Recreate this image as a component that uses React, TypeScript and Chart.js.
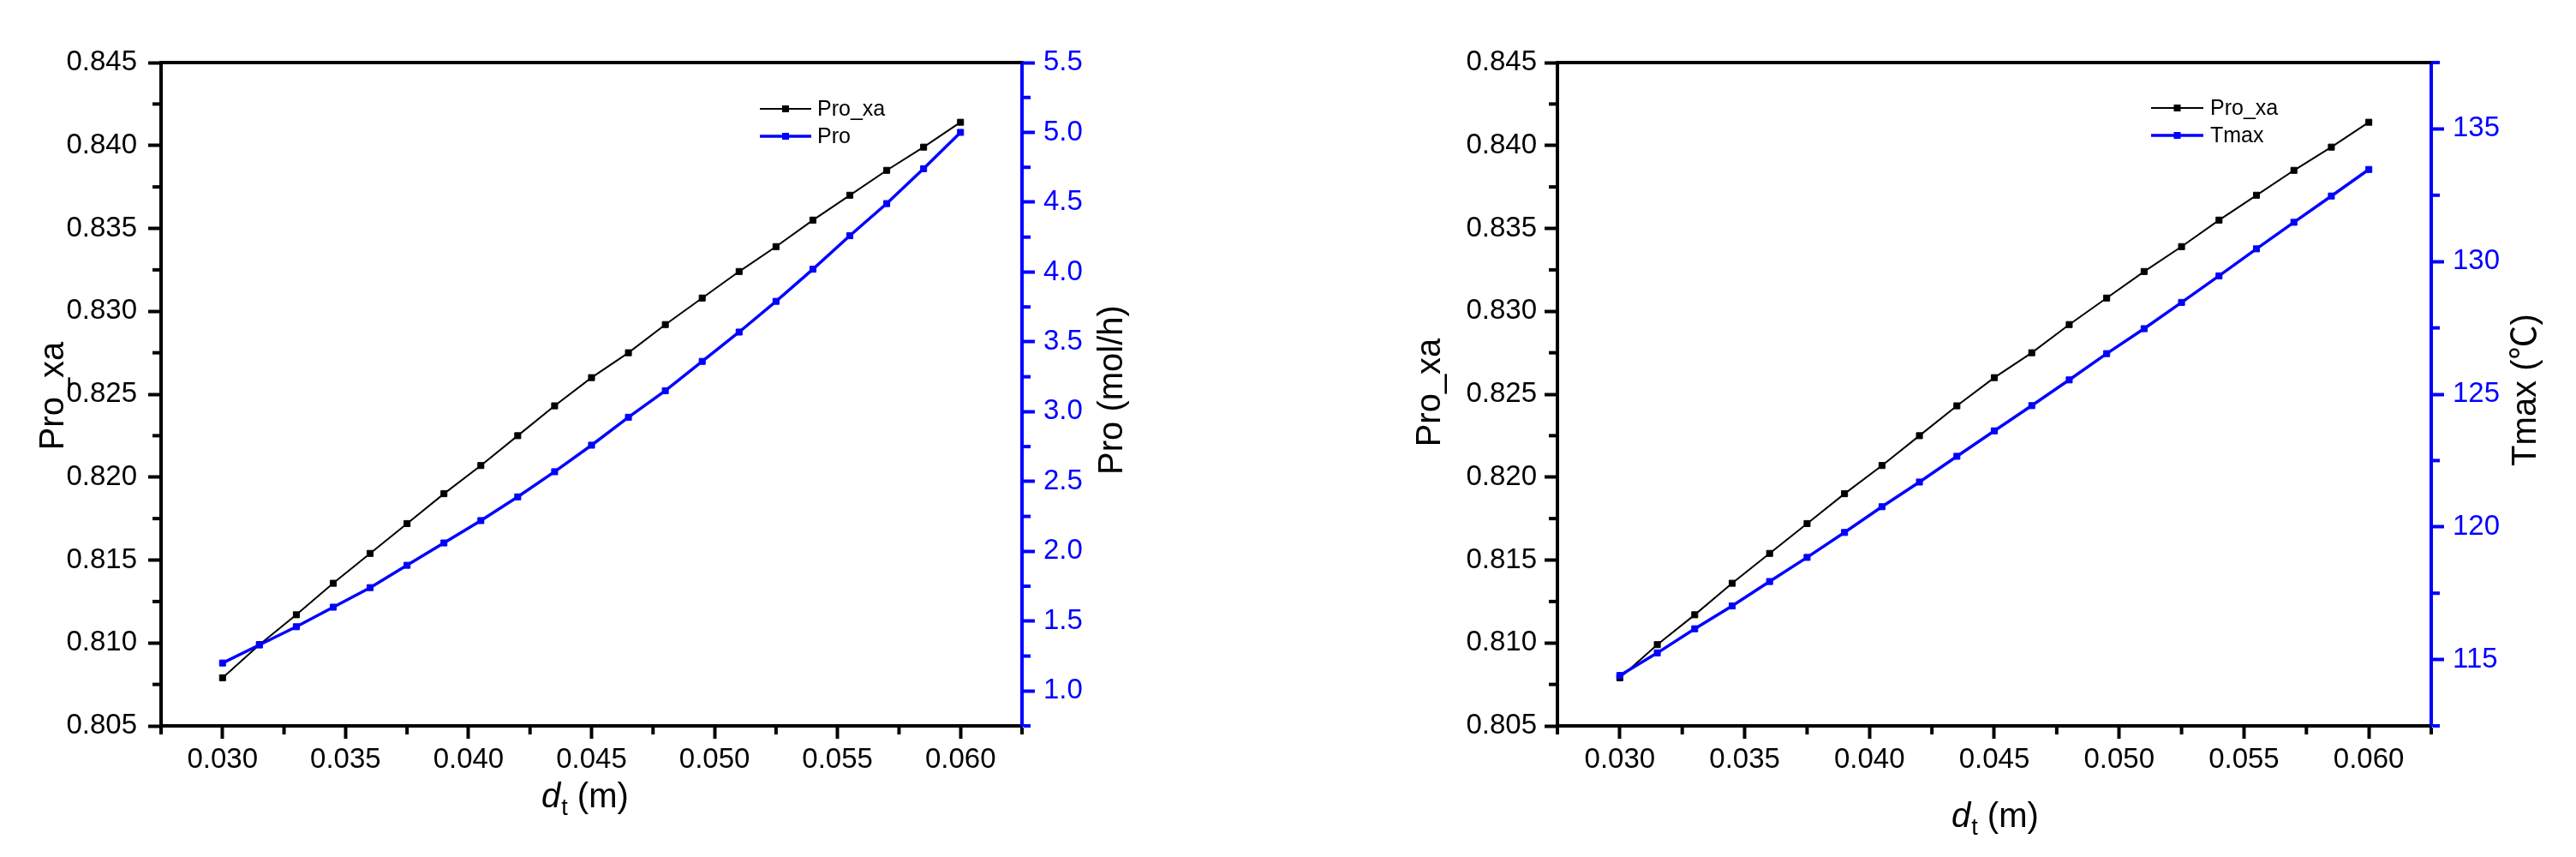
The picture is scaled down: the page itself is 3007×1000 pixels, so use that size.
import React, { useEffect, useRef } from 'react';
import { Chart, registerables } from 'chart.js';

Chart.register(...registerables);

// ---------- data ----------
const dt = [0.03, 0.0315, 0.033, 0.0345, 0.036, 0.0375, 0.039, 0.0405, 0.042, 0.0435, 0.045, 0.0465, 0.048, 0.0495, 0.051, 0.0525, 0.054, 0.0555, 0.057, 0.0585, 0.06];
const proXa = [0.8079, 0.8099, 0.8117, 0.8136, 0.8154, 0.8172, 0.819, 0.8207, 0.8225, 0.8243, 0.826, 0.8275, 0.8292, 0.8308, 0.8324, 0.8339, 0.8355, 0.837, 0.8385, 0.8399, 0.8414];
const pro = [1.2, 1.33, 1.46, 1.6, 1.74, 1.9, 2.06, 2.22, 2.39, 2.57, 2.76, 2.96, 3.15, 3.36, 3.57, 3.79, 4.02, 4.26, 4.49, 4.74, 5.0];
const tmax = [114.4, 115.25, 116.16, 117.02, 117.94, 118.85, 119.79, 120.76, 121.69, 122.66, 123.62, 124.57, 125.54, 126.53, 127.47, 128.46, 129.46, 130.48, 131.48, 132.47, 133.47];

// ---------- ticks ----------
const xTicks = [0.0275, 0.03, 0.0325, 0.035, 0.0375, 0.04, 0.0425, 0.045, 0.0475, 0.05, 0.0525, 0.055, 0.0575, 0.06, 0.0625];
const xMajor = [0.03, 0.035, 0.04, 0.045, 0.05, 0.055, 0.06];
const xaTicks = [0.805, 0.8075, 0.81, 0.8125, 0.815, 0.8175, 0.82, 0.8225, 0.825, 0.8275, 0.83, 0.8325, 0.835, 0.8375, 0.84, 0.8425, 0.845];
const xaMajor = [0.805, 0.81, 0.815, 0.82, 0.825, 0.83, 0.835, 0.84, 0.845];
const proTicks = [0.75, 1, 1.25, 1.5, 1.75, 2, 2.25, 2.5, 2.75, 3, 3.25, 3.5, 3.75, 4, 4.25, 4.5, 4.75, 5, 5.25, 5.5];
const proMajor = [1, 1.5, 2, 2.5, 3, 3.5, 4, 4.5, 5, 5.5];
const tmaxTicks = [112.5, 115, 117.5, 120, 122.5, 125, 127.5, 130, 132.5, 135, 137.5];
const tmaxMajor = [115, 120, 125, 130, 135];

const FONT = "'Liberation Sans', Arial, 'Noto Sans CJK SC', sans-serif";
const CJK = "'Noto Sans CJK SC', 'Liberation Sans', sans-serif";
const BLUE = '#0000ff';
const BLACK = '#000000';

const isIn = (v: number, arr: number[]) => arr.some((m) => Math.abs(m - v) < 1e-9);
const minorsOf = (ticks: number[], majors: number[]) => ticks.filter((t) => !isIn(t, majors));

type Part = { text: string; family: string };

type PanelProps = {
  left: number;
  width: number;
  area: { left: number; right: number; top: number; bottom: number };
  rightLabel: Part[];
  rightName: string;
  rightValues: number[];
  rightTicks: number[];
  rightMajor: number[];
  rightDecimals: number;
  rightMin: number;
  rightMax: number;
  yPad: number;
  y1Pad: number;
  yTitleX: number;
  yTitleY: number;
  y1TitleX: number;
  y1TitleY: number;
  xTitleX: number;
  xTitleY: number;
  legX0: number;
  legX1: number;
  legTX: number;
  legY0: number;
  legY1: number;
};

function axis(
  position: string,
  min: number,
  max: number,
  ticks: number[],
  majors: number[],
  decimals: number,
  color: string,
  pad: number,
  size: number
) {
  const horizontal = position === 'bottom';
  return {
    type: 'linear',
    position,
    min,
    max,
    afterBuildTicks: (s: any) => {
      s.ticks = ticks.map((v) => ({ value: v }));
    },
    afterFit: (s: any) => {
      if (horizontal) s.height = size;
      else s.width = size;
    },
    grid: {
      display: true,
      drawOnChartArea: false,
      drawTicks: true,
      tickLength: 15,
      tickWidth: 4,
      tickColor: (c: any) => (c.tick && isIn(c.tick.value, majors) ? color : 'rgba(0,0,0,0)'),
    },
    border: { display: true, color, width: 4 },
    ticks: {
      autoSkip: false,
      maxRotation: 0,
      minRotation: 0,
      padding: pad,
      color,
      font: { family: FONT, size: 33 },
      callback: (v: any) => (isIn(Number(v), majors) ? Number(v).toFixed(decimals) : ''),
    },
  };
}

function Panel(p: PanelProps) {
  const ref = useRef<HTMLCanvasElement | null>(null);

  useEffect(() => {
    const canvas = ref.current;
    if (!canvas) return;

    const minorDefs = [
      { id: 'x', values: minorsOf(xTicks, xMajor), color: BLACK },
      { id: 'y', values: minorsOf(xaTicks, xaMajor), color: BLACK },
      { id: 'y1', values: minorsOf(p.rightTicks, p.rightMajor), color: BLUE },
    ];

    const decor = {
      id: 'decor',
      beforeDatasetsDraw(chart: any) {
        const { ctx, chartArea: a } = chart;
        ctx.save();
        ctx.strokeStyle = BLACK;
        ctx.lineWidth = 4;
        ctx.beginPath();
        ctx.moveTo(a.left - 2, a.top);
        ctx.lineTo(a.right, a.top);
        ctx.stroke();
        for (const d of minorDefs) {
          const s = chart.scales[d.id];
          ctx.strokeStyle = d.color;
          ctx.lineWidth = 4;
          for (const v of d.values) {
            const px = s.getPixelForValue(v);
            ctx.beginPath();
            if (d.id === 'x') {
              ctx.moveTo(px, a.bottom + 2);
              ctx.lineTo(px, a.bottom + 10);
            } else if (d.id === 'y') {
              ctx.moveTo(a.left - 2, px);
              ctx.lineTo(a.left - 10, px);
            } else {
              ctx.moveTo(a.right + 2, px);
              ctx.lineTo(a.right + 10, px);
            }
            ctx.stroke();
          }
        }
        ctx.restore();
      },
      afterDraw(chart: any) {
        const { ctx } = chart;
        ctx.save();
        ctx.fillStyle = BLACK;
        ctx.textBaseline = 'alphabetic';
        const rotParts = (parts: Part[], x: number, y: number) => {
          ctx.save();
          ctx.translate(x, y);
          ctx.rotate(-Math.PI / 2);
          ctx.textAlign = 'left';
          let total = 0;
          for (const pt of parts) {
            ctx.font = `40px ${pt.family}`;
            total += ctx.measureText(pt.text).width;
          }
          let cx = -total / 2;
          for (const pt of parts) {
            ctx.font = `40px ${pt.family}`;
            ctx.fillText(pt.text, cx, 0);
            cx += ctx.measureText(pt.text).width;
          }
          ctx.restore();
        };
        rotParts([{ text: 'Pro_xa', family: FONT }], p.yTitleX, p.yTitleY);
        rotParts(p.rightLabel, p.y1TitleX, p.y1TitleY);
        // x title: d_t (m)
        ctx.textAlign = 'left';
        let x = p.xTitleX;
        ctx.font = `italic 40px ${FONT}`;
        ctx.fillText('d', x, p.xTitleY);
        x += ctx.measureText('d').width + 1;
        ctx.font = `27px ${FONT}`;
        ctx.fillText('t', x, p.xTitleY + 9);
        x += ctx.measureText('t').width;
        ctx.font = `40px ${FONT}`;
        ctx.fillText(' (m)', x, p.xTitleY);
        // legend
        const items = [
          { label: 'Pro_xa', color: BLACK, lw: 2, y: p.legY0 },
          { label: p.rightName, color: BLUE, lw: 3.5, y: p.legY1 },
        ];
        ctx.font = `25px ${FONT}`;
        ctx.textBaseline = 'middle';
        for (const it of items) {
          ctx.strokeStyle = it.color;
          ctx.lineWidth = it.lw;
          ctx.beginPath();
          ctx.moveTo(p.legX0, it.y);
          ctx.lineTo(p.legX1, it.y);
          ctx.stroke();
          ctx.fillStyle = it.color;
          const mx = (p.legX0 + p.legX1) / 2;
          ctx.fillRect(mx - 4, it.y - 4, 8, 8);
          ctx.fillStyle = BLACK;
          ctx.fillText(it.label, p.legTX, it.y + 1);
        }
        ctx.restore();
      },
    };

    const chart = new Chart(canvas, {
      type: 'line',
      data: {
        datasets: [
          {
            label: 'Pro_xa',
            data: dt.map((x, i) => ({ x, y: proXa[i] })),
            yAxisID: 'y',
            borderColor: BLACK,
            backgroundColor: BLACK,
            borderWidth: 2,
            pointStyle: 'rect',
            pointRadius: 5,
            pointBorderWidth: 1,
            pointBackgroundColor: BLACK,
            pointBorderColor: BLACK,
            tension: 0,
            order: 1,
          },
          {
            label: p.rightName,
            data: dt.map((x, i) => ({ x, y: p.rightValues[i] })),
            yAxisID: 'y1',
            borderColor: BLUE,
            backgroundColor: BLUE,
            borderWidth: 3.5,
            pointStyle: 'rect',
            pointRadius: 5,
            pointBorderWidth: 1,
            pointBackgroundColor: BLUE,
            pointBorderColor: BLUE,
            tension: 0,
            order: 0,
          },
        ],
      },
      options: {
        responsive: false,
        animation: false,
        devicePixelRatio: 1,
        layout: { padding: { top: p.area.top, left: 0, right: 0, bottom: 0 } },
        plugins: { legend: { display: false }, tooltip: { enabled: false }, title: { display: false } },
        scales: {
          x: axis('bottom', 0.0275, 0.0625, xTicks, xMajor, 3, BLACK, 5, 1000 - p.area.bottom) as any,
          y: axis('left', 0.805, 0.845, xaTicks, xaMajor, 3, BLACK, p.yPad, p.area.left) as any,
          y1: axis('right', p.rightMin, p.rightMax, p.rightTicks, p.rightMajor, p.rightDecimals, BLUE, p.y1Pad, p.width - p.area.right) as any,
        },
      } as any,
      plugins: [decor],
    });

    return () => chart.destroy();
  }, []);

  return (
    <canvas
      ref={ref}
      width={p.width}
      height={1000}
      style={{ position: 'absolute', left: p.left, top: 0, width: p.width, height: 1000 }}
    />
  );
}

export default function App() {
  return (
    <div style={{ position: 'absolute', left: 0, top: 0, width: 3007, height: 1000, background: '#fff', overflow: 'hidden' }}>
      <Panel
        left={0}
        width={1500}
        area={{ left: 188, right: 1193, top: 73, bottom: 847 }}
        rightLabel={[{ text: 'Pro (mol/h)', family: FONT }]}
        rightName="Pro"
        rightValues={pro}
        rightTicks={proTicks}
        rightMajor={proMajor}
        rightDecimals={1}
        rightMin={0.75}
        rightMax={5.5}
        yPad={13}
        y1Pad={10}
        yTitleX={74}
        yTitleY={462}
        y1TitleX={1310}
        y1TitleY={455}
        xTitleX={632}
        xTitleY={942}
        legX0={887}
        legX1={947}
        legTX={954}
        legY0={127}
        legY1={159}
      />
      <Panel
        left={1500}
        width={1507}
        area={{ left: 318, right: 1338, top: 73, bottom: 847 }}
        rightLabel={[
          { text: 'Tmax (', family: FONT },
          { text: '℃', family: CJK },
          { text: ')', family: FONT },
        ]}
        rightName="Tmax"
        rightValues={tmax}
        rightTicks={tmaxTicks}
        rightMajor={tmaxMajor}
        rightDecimals={0}
        rightMin={112.5}
        rightMax={137.5}
        yPad={9}
        y1Pad={10}
        yTitleX={181}
        yTitleY={458}
        y1TitleX={1460}
        y1TitleY={455}
        xTitleX={778}
        xTitleY={965}
        legX0={1011}
        legX1={1072}
        legTX={1080}
        legY0={126}
        legY1={158}
      />
    </div>
  );
}
